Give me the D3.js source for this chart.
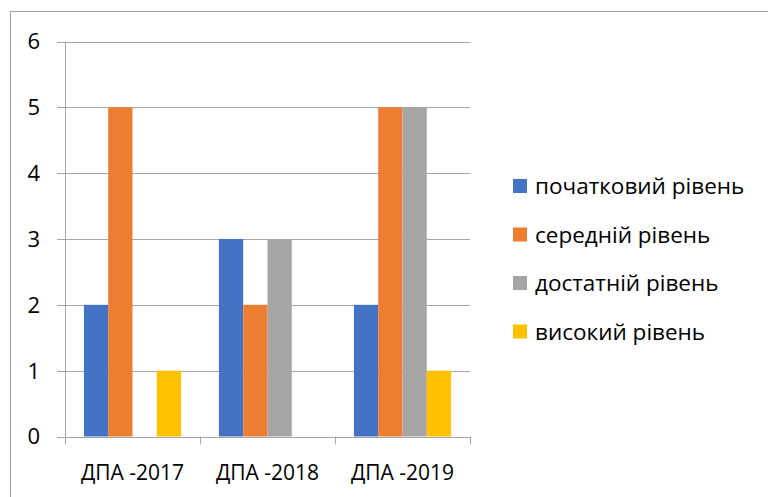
<!DOCTYPE html>
<html>
<head>
<meta charset="utf-8">
<script src="https://cdn.jsdelivr.net/npm/d3@7"></script>
<style>
  body { margin: 0; background: #fff; }
  svg text { font-family: "Open Sans", "Liberation Sans", sans-serif; fill: #000; }
</style>
</head>
<body>
<div id="chart"></div>
<script>
const categories = ["ДПА -2017", "ДПА -2018", "ДПА -2019"];
const seriesNames = ["початковий рівень", "середній рівень", "достатній рівень", "високий рівень"];
const seriesColors = ["#4472C4", "#ED7D31", "#A5A5A5", "#FFC000"];
const values = [
    [2, 5, 0, 1],
    [3, 2, 3, 0],
    [2, 5, 5, 1]
];
const yTicks = [0, 1, 2, 3, 4, 5, 6];

const W = 768, H = 497;
const plot = { left: 65, right: 470, top: 41.5, bottom: 436.5 };

const svg = d3.select("#chart")
    .append("svg")
    .attr("width", W)
    .attr("height", H);

// outer chart border
svg.append("rect")
    .attr("x", 10.5)
    .attr("y", 11.5)
    .attr("width", W)
    .attr("height", H)
    .attr("fill", "none")
    .attr("stroke", "#a0a0a0")
    .attr("stroke-width", 1);

const x0 = d3.scaleBand().domain(categories).range([plot.left, plot.right]).padding(0);
const x1 = d3.scaleBand().domain(seriesNames).range([0, x0.bandwidth()]).paddingInner(0).paddingOuter(0.78);
const y = d3.scaleLinear().domain([0, 6]).range([plot.bottom, plot.top]);

// gridlines
svg.append("g")
    .selectAll("line")
    .data(yTicks.filter(d => d > 0))
    .enter()
    .append("line")
    .attr("x1", 57)
    .attr("x2", plot.right)
    .attr("y1", d => Math.round(y(d)) + 0.5)
    .attr("y2", d => Math.round(y(d)) + 0.5)
    .attr("stroke", "#a6a6a6")
    .attr("stroke-width", 1);

// y axis line
svg.append("line")
    .attr("x1", plot.left + 0.5)
    .attr("x2", plot.left + 0.5)
    .attr("y1", plot.top)
    .attr("y2", plot.bottom)
    .attr("stroke", "#a6a6a6");

// y tick labels
svg.append("g")
    .selectAll("text")
    .data(yTicks)
    .enter()
    .append("text")
    .attr("x", 40)
    .attr("y", d => y(d))
    .attr("dy", "0.36em")
    .attr("text-anchor", "end")
    .attr("font-size", "22px")
    .text(d => d);

// bars
const groups = svg.append("g")
    .selectAll("g")
    .data(categories)
    .enter()
    .append("g")
    .attr("transform", d => `translate(${x0(d)},0)`);

groups.selectAll("rect")
    .data((d, i) => values[i].map((v, j) => ({ name: seriesNames[j], value: v, color: seriesColors[j] })))
    .enter()
    .append("rect")
    .attr("x", d => x1(d.name))
    .attr("y", d => y(d.value))
    .attr("width", x1.bandwidth())
    .attr("height", d => y(0) - y(d.value))
    .attr("fill", d => d.color);

// x axis
svg.append("line")
    .attr("x1", 57)
    .attr("x2", plot.right + 1)
    .attr("y1", Math.round(plot.bottom) + 0.5)
    .attr("y2", Math.round(plot.bottom) + 0.5)
    .attr("stroke", "#a6a6a6");

const xTickPos = [plot.left].concat(categories.map(c => x0(c) + x0.bandwidth()));
svg.append("g")
    .selectAll("line")
    .data(xTickPos)
    .enter()
    .append("line")
    .attr("x1", d => Math.round(d) + 0.5)
    .attr("x2", d => Math.round(d) + 0.5)
    .attr("y1", plot.bottom)
    .attr("y2", plot.bottom + 8)
    .attr("stroke", "#a6a6a6");

svg.append("g")
    .selectAll("text")
    .data(categories)
    .enter()
    .append("text")
    .attr("x", d => x0(d) + x0.bandwidth() / 2)
    .attr("y", 480)
    .attr("text-anchor", "middle")
    .attr("font-size", "21px")
    .text(d => d);

// legend
const legend = svg.append("g")
    .selectAll("g")
    .data(seriesNames)
    .enter()
    .append("g")
    .attr("transform", (d, i) => `translate(513,${186 + i * 48.5})`);

legend.append("rect")
    .attr("x", 0)
    .attr("y", -7)
    .attr("width", 14)
    .attr("height", 14)
    .attr("fill", (d, i) => seriesColors[i]);

legend.append("text")
    .attr("x", 22)
    .attr("y", 0)
    .attr("dy", "0.36em")
    .attr("font-size", "22.5px")
    .text(d => d);
</script>
</body>
</html>
